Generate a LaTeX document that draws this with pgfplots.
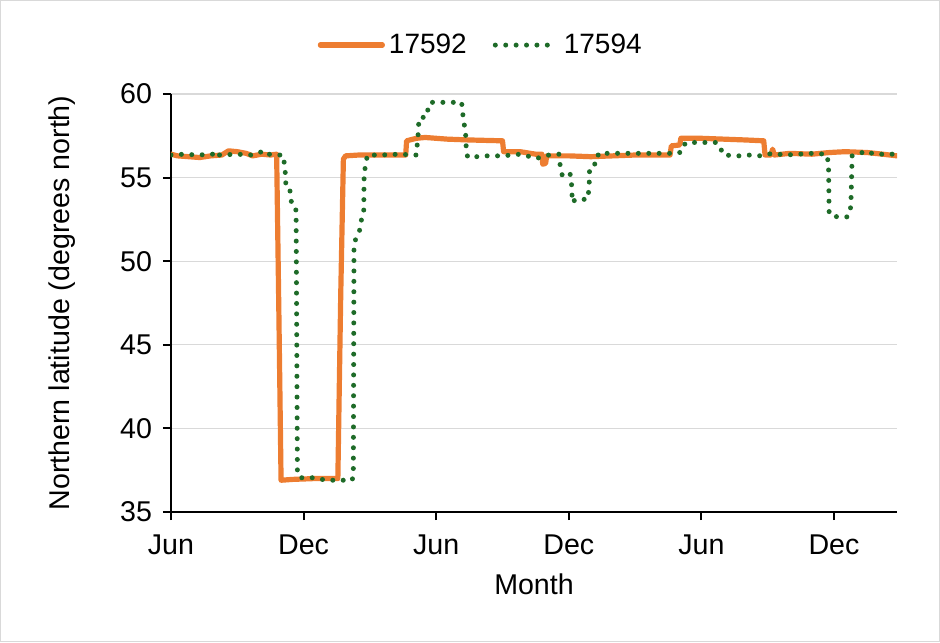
\documentclass[border=0pt]{standalone}
\usepackage{pgfplots}
\pgfplotsset{compat=1.18}
\usepackage{fontspec}
\setmainfont{Liberation Sans}
\definecolor{orng}{RGB}{237,125,49}
\definecolor{dgreen}{RGB}{30,107,40}
\definecolor{gridgray}{RGB}{217,217,217}

\pgfplotstableread{
m lat
0.00 56.40
0.30 56.30
0.80 56.25
1.30 56.20
1.80 56.30
2.30 56.35
2.60 56.60
3.00 56.55
3.40 56.45
3.70 56.30
4.10 56.40
4.50 56.35
4.78 56.40
4.88 47.00
4.98 36.90
5.50 36.95
6.50 37.00
7.20 37.00
7.55 37.00
7.68 48.00
7.80 56.10
7.90 56.30
8.50 56.35
9.50 56.35
10.62 56.35
10.66 57.20
11.10 57.35
11.50 57.40
12.50 57.30
13.50 57.25
15.00 57.20
15.05 56.55
15.80 56.55
16.50 56.40
16.78 56.40
16.82 55.80
16.95 55.85
17.00 56.30
18.00 56.30
19.00 56.25
20.00 56.30
21.00 56.35
22.58 56.35
22.64 56.90
23.02 56.95
23.07 57.35
24.00 57.35
25.00 57.30
26.00 57.25
26.82 57.20
26.88 56.35
27.15 56.35
27.22 56.70
27.30 56.35
28.00 56.45
29.00 56.40
29.80 56.50
30.50 56.55
31.50 56.50
32.20 56.40
32.85 56.30
}\tagA

\pgfplotstableread{
m lat
0.00 56.35
0.60 56.40
1.20 56.35
1.90 56.40
2.05 56.60
2.20 56.35
3.00 56.40
3.60 56.35
4.25 56.60
4.40 56.40
4.90 56.35
5.07 56.35
5.14 55.75
5.18 55.15
5.20 54.40
5.38 54.25
5.43 53.70
5.48 53.25
5.66 53.05
5.72 37.30
5.84 37.05
6.40 37.05
7.05 36.90
7.60 36.90
8.20 36.90
8.25 37.30
8.28 50.70
8.35 51.30
8.55 51.90
8.62 52.50
8.72 52.90
8.74 55.30
8.82 55.80
8.88 56.35
9.50 56.35
10.30 56.40
11.10 56.35
11.18 57.55
11.22 58.55
11.58 58.65
11.65 59.35
11.75 59.50
12.50 59.50
13.15 59.50
13.22 58.60
13.33 57.65
13.37 56.40
13.45 56.20
14.20 56.30
15.00 56.30
15.80 56.40
16.55 56.15
17.10 56.35
17.55 56.40
17.62 55.60
17.70 55.15
18.05 55.30
18.12 54.70
18.16 53.50
18.30 53.70
18.85 53.70
18.92 54.40
18.94 55.60
19.10 55.75
19.28 55.90
19.34 56.45
20.50 56.45
21.50 56.45
22.95 56.45
23.15 56.60
23.26 57.05
23.40 57.10
24.20 57.10
24.70 57.10
24.92 56.60
25.00 56.35
25.70 56.30
26.20 56.35
26.70 56.30
27.20 56.45
27.80 56.35
28.40 56.40
29.00 56.45
29.65 56.40
29.75 55.90
29.78 52.80
30.15 52.65
30.62 52.65
30.76 53.25
30.82 56.30
31.10 56.40
31.45 56.60
31.80 56.40
32.85 56.40
}\tagB

\begin{document}
\begin{tikzpicture}
\useasboundingbox (-85.5pt,-65pt) rectangle (384.5pt,256pt);
\draw[gridgray, line width=0.6pt] (-85.2pt,-64.7pt) rectangle (384.2pt,255.7pt);
\begin{axis}[
  at={(0pt,0pt)}, anchor=south west,
  scale only axis, width=363pt, height=209pt,
  xmin=0, xmax=32.85, ymin=35, ymax=60,
  axis x line*=bottom, axis y line*=left,
  axis line style={line width=1pt, black, -},
  xtick={0,6,12,18,24,30},
  xticklabels={Jun,Dec,Jun,Dec,Jun,Dec},
  ytick={35,40,45,50,55,60},
  ymajorgrids, grid style={gridgray, line width=0.6pt},
  tick align=outside, major tick length=4pt,
  tick style={black, line width=1pt},
  /pgf/number format/assume math mode=true,
  every tick label/.append style={font=\fontsize{14.3}{16}\selectfont},
  yticklabel style={xshift=-2pt},
  xticklabel style={yshift=-4pt},
  xlabel={Month}, ylabel={Northern latitude (degrees north)},
  every axis x label/.style={at={(axis description cs:0.5,0)}, yshift=-36pt, anchor=center, font=\fontsize{14.3}{16}\selectfont},
  every axis y label/.style={at={(axis description cs:0,0.5)}, xshift=-54.5pt, rotate=90, anchor=center, font=\fontsize{14.3}{16}\selectfont},
  legend style={at={(0.428,1.117)}, anchor=center, draw=none, fill=none,
    legend columns=2, font=\fontsize{14}{16}\selectfont,
    /tikz/every even column/.append style={column sep=11pt},
    legend cell align=left},
  legend image code/.code={\draw[#1] (0pt,0pt) -- (31pt,0pt);},
]
\addplot[orng, line width=2.6pt, line join=round, line cap=round] table[x=m, y=lat] {\tagA};
\addlegendentry{17592}
\addplot[dgreen, line width=2.5pt, line cap=round, dash pattern=on 0pt off 5.2pt] table[x=m, y=lat] {\tagB};
\addlegendentry{17594}
\end{axis}
\end{tikzpicture}
\end{document}
